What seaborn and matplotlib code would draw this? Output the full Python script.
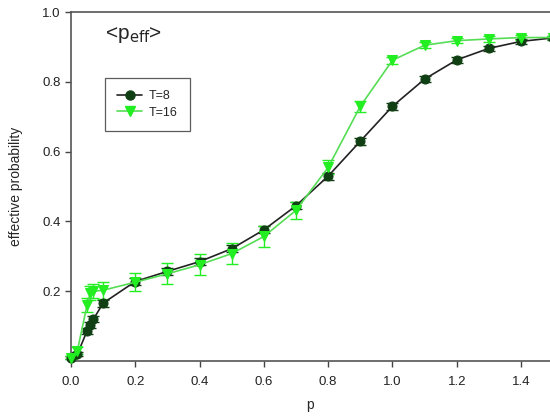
import numpy as np
import pandas as pd
import matplotlib
matplotlib.use("Agg")
import matplotlib.pyplot as plt
import seaborn as sns
from matplotlib.lines import Line2D

p_vals = [0.0, 0.02, 0.05, 0.06, 0.07, 0.1, 0.2, 0.3, 0.4, 0.5, 0.6, 0.7, 0.8, 0.9, 1.0, 1.1, 1.2, 1.3, 1.4, 1.5]
t8_vals = [0.01, 0.02, 0.086, 0.103, 0.12, 0.166, 0.228, 0.257, 0.285, 0.322, 0.376, 0.445, 0.53, 0.63, 0.73, 0.808, 0.863, 0.896, 0.916, 0.926]
t8_err = [0.005, 0.005, 0.008, 0.008, 0.008, 0.01, 0.01, 0.01, 0.01, 0.01, 0.01, 0.01, 0.01, 0.01, 0.01, 0.008, 0.008, 0.008, 0.008, 0.005]
t16_vals = [0.01, 0.03, 0.16, 0.195, 0.2, 0.203, 0.226, 0.25, 0.276, 0.308, 0.357, 0.432, 0.555, 0.73, 0.862, 0.905, 0.918, 0.923, 0.927, 0.927]
t16_err = [0.005, 0.01, 0.02, 0.02, 0.02, 0.025, 0.025, 0.03, 0.03, 0.03, 0.03, 0.025, 0.02, 0.015, 0.01, 0.008, 0.008, 0.008, 0.008, 0.005]
series = ["T=8", "T=16"]

df = pd.DataFrame({
    "p": p_vals * 2,
    "val": t8_vals + t16_vals,
    "err": t8_err + t16_err,
    "T": [series[0]] * len(p_vals) + [series[1]] * len(p_vals),
})

sns.set_style("ticks")
plt.rcParams['font.family'] = ['Liberation Sans', 'DejaVu Sans']

fig = plt.figure(figsize=(5.5, 4.16), dpi=100)
ax = fig.add_axes([0.129, 0.132, 0.871, 0.839])

line_cols = {"T=8": "#222222", "T=16": "#55dd55"}
mk_cols = {"T=8": "#0f3f12", "T=16": "#22ee22"}
markers = {"T=8": "o", "T=16": "v"}

for s in series:
    d = df[df["T"] == s]
    ax.errorbar(d["p"], d["val"], yerr=d["err"], fmt="none", ecolor=mk_cols[s],
                elinewidth=1.0, capsize=4, capthick=1.0, zorder=2, clip_on=False)

sns.lineplot(data=df, x="p", y="val", hue="T", style="T", markers=markers, dashes=False,
             palette=line_cols, markersize=6.5, linewidth=1.2, ax=ax, legend=False,
             zorder=3, clip_on=False)
for line, s in zip(ax.get_lines()[-2:], series):
    line.set_markerfacecolor(mk_cols[s])
    line.set_markeredgecolor(mk_cols[s])

ax.set_xlim(0, 1.49)
ax.set_ylim(0, 1.0)
ax.set_xticks([0.0, 0.2, 0.4, 0.6, 0.8, 1.0, 1.2, 1.4])
ax.set_xticklabels(["0.0", "0.2", "0.4", "0.6", "0.8", "1.0", "1.2", "1.4"])
ax.set_yticks([0.2, 0.4, 0.6, 0.8, 1.0])
ax.set_yticklabels(["0.2", "0.4", "0.6", "0.8", "1.0"])
ax.tick_params(axis="both", labelsize=9.5, length=4, width=1.0, color="#444444", labelcolor="#222222", direction="out")
ax.tick_params(axis="x", pad=7)
ax.set_xlabel("p", fontsize=10, labelpad=7)
ax.set_ylabel("effective probability", fontsize=10, labelpad=14)

for side in ["left", "bottom", "top"]:
    ax.spines[side].set_color("#555555")
    ax.spines[side].set_linewidth(1.2)
ax.spines["right"].set_visible(False)

ax.text(0.072, 0.935, r"<p$_{\mathrm{eff}}$>", transform=ax.transAxes, fontsize=15, ha="left", va="center")

handles = [Line2D([], [], color=line_cols[s], marker=markers[s], markerfacecolor=mk_cols[s],
                  markeredgecolor=mk_cols[s], markersize=6.5, linewidth=1.2) for s in series]
leg = ax.legend(handles, series, loc="upper left", bbox_to_anchor=(0.058, 0.83), fontsize=9,
                frameon=True, fancybox=False, edgecolor="#333333", handlelength=2.0,
                handletextpad=0.5, borderpad=1.0, labelspacing=0.35)
leg.get_frame().set_linewidth(0.9)

fig.savefig("out.png", dpi=100)
